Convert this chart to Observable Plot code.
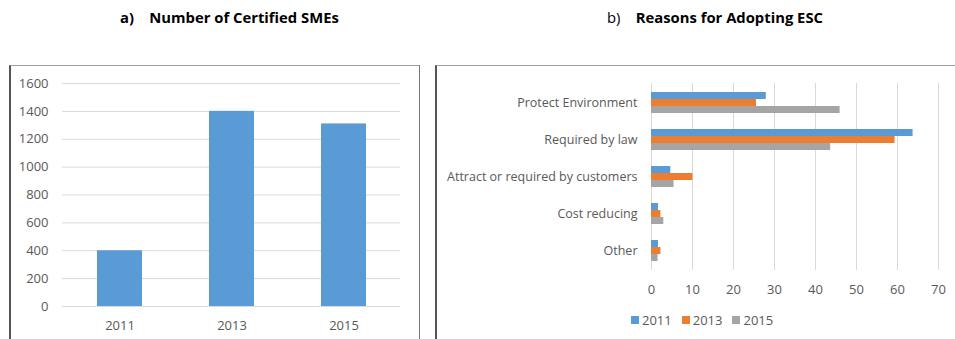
<!DOCTYPE html>
<html>
<head>
<meta charset="utf-8">
<script src="https://cdn.jsdelivr.net/npm/d3@7"></script>
<script src="https://cdn.jsdelivr.net/npm/@observablehq/plot@0.6"></script>
<style>
  body { margin: 0; background: #fff; font-family: "Open Sans", sans-serif; }
  #page { position: relative; width: 955px; height: 339px; overflow: hidden; }
  .title { position: absolute; top: 7px; font-size: 14.8px; font-weight: bold; color: #000; white-space: pre; }
  .title .lab { font-weight: normal; }
  .box { position: absolute; border-top: 1px solid #a0a0a0; border-left: 2px solid #555; border-right: 1px solid #777; }
  .chart { position: absolute; }
  #legend { position: absolute; top: 311px; left: 631px; font-size: 13px; color: #595959; display: flex; align-items: center; }
  #legend .item { display: flex; align-items: center; margin-right: 10px; }
  #legend .sw { width: 8px; height: 8px; margin-right: 3px; display: inline-block; }
</style>
</head>
<body>
<div id="page">
  <div class="title" style="left:120px;"><span>a)</span>    Number of Certified SMEs</div>
  <div class="title" style="left:607px;"><span class="lab">b)</span>    Reasons for Adopting ESC</div>
  <div class="box" style="left:9px; top:65px; width:408px; height:300px;"></div>
  <div class="box" style="left:435px; top:65px; width:540px; height:300px;"></div>
  <div class="chart" id="left" style="left:10px; top:66px;"></div>
  <div class="chart" id="rightgrid" style="left:436px; top:66px;"></div>
  <div class="chart" id="right" style="left:436px; top:66px;"></div>
  <div id="legend"></div>
</div>
<script>
// ---- Data ----
const smeYears = ["2011", "2013", "2015"];
const smeCounts = [400, 1400, 1310];
const smeTicks = [0, 200, 400, 600, 800, 1000, 1200, 1400, 1600];

const reasons = ["Protect Environment", "Required by law", "Attract or required by customers", "Cost reducing", "Other"];
const seriesYears = ["2011", "2013", "2015"];
const values2011 = [28.0, 63.8, 4.7, 1.7, 1.7];
const values2013 = [25.6, 59.4, 10.1, 2.3, 2.3];
const values2015 = [46.0, 43.7, 5.5, 3.0, 1.6];
const reasonTicks = [0, 10, 20, 30, 40, 50, 60, 70];
const seriesColors = ["#5B9BD5", "#ED7D31", "#A5A5A5"];

const textColor = "#595959";
const gridColor = "#D9D9D9";
const font = "Open Sans, sans-serif";

// ---- Left chart ----
const smeData = smeYears.map((y, i) => ({year: y, count: smeCounts[i]}));
const left = Plot.plot({
  width: 409,
  height: 273,
  marginLeft: 52,
  marginRight: 19,
  marginTop: 17,
  marginBottom: 33,
  style: {fontFamily: font, fontSize: "13px", color: textColor, background: "transparent"},
  x: {domain: smeYears, paddingInner: 0.6, paddingOuter: 0.3, label: null, tickSize: 0, tickPadding: 14},
  y: {domain: [0, 1600], ticks: smeTicks, tickFormat: "d", label: null, tickSize: 0, tickPadding: 14},
  marks: [
    Plot.ruleY(smeTicks, {stroke: gridColor, strokeWidth: 1}),
    Plot.barY(smeData, {x: "year", y: "count", fill: seriesColors[0]})
  ]
});
document.getElementById("left").appendChild(left);

// ---- Right chart ----
const common = {
  width: 519,
  height: 273,
  marginLeft: 215,
  marginRight: 17,
  marginTop: 17,
  marginBottom: 69,
  style: {fontFamily: font, fontSize: "13px", color: textColor, background: "transparent"}
};
// grid layer (continuous across facets)
const grid = Plot.plot({
  ...common,
  x: {domain: [0, 70], ticks: reasonTicks, label: null, tickSize: 0, tickPadding: 14},
  marks: [
    Plot.ruleX(reasonTicks, {stroke: gridColor, strokeWidth: 1})
  ]
});
document.getElementById("rightgrid").appendChild(grid);

const allVals = [values2011, values2013, values2015];
const reasonData = [];
reasons.forEach((r, i) => {
  seriesYears.forEach((y, j) => reasonData.push({reason: r, year: y, value: allVals[j][i]}));
});
const right = Plot.plot({
  ...common,
  style: {...common.style, fontSize: "12.5px"},
  x: {domain: [0, 70], axis: null, label: null},
  y: {domain: seriesYears, axis: null, padding: 0},
  fy: {domain: reasons, paddingInner: 0.4, paddingOuter: 0.2, label: null, axis: "left", tickSize: 0, tickPadding: 14},
  color: {domain: seriesYears, range: seriesColors},
  marks: [
    Plot.barX(reasonData, {fy: "reason", y: "year", x: "value", fill: "year"})
  ]
});
document.getElementById("right").appendChild(right);

// ---- Legend ----
const legend = document.getElementById("legend");
seriesYears.forEach((y, i) => {
  const item = document.createElement("span");
  item.className = "item";
  const sw = document.createElement("span");
  sw.className = "sw";
  sw.style.background = seriesColors[i];
  item.appendChild(sw);
  item.appendChild(document.createTextNode(y));
  legend.appendChild(item);
});
</script>
</body>
</html>
